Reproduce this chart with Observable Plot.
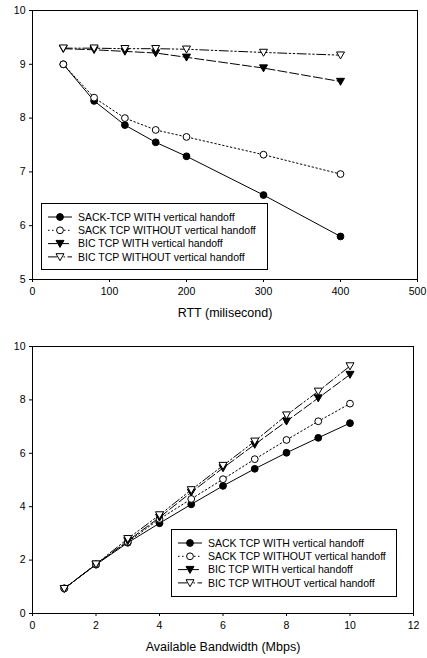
<!DOCTYPE html>
<html><head><meta charset="utf-8">
<script src="https://cdn.jsdelivr.net/npm/d3@7"></script>
<script src="https://cdn.jsdelivr.net/npm/@observablehq/plot@0.6"></script>
<style>
html,body{margin:0;padding:0;background:#fff;}
#chart svg{display:block;}
</style></head><body><div id="chart"></div>
<script>
// ---- data ----
const seriesNames1 = ["SACK-TCP WITH vertical handoff", "SACK TCP WITHOUT vertical handoff", "BIC TCP WITH vertical handoff", "BIC TCP WITHOUT vertical handoff"];
const seriesNames2 = ["SACK TCP WITH vertical handoff", "SACK TCP WITHOUT vertical handoff", "BIC TCP WITH vertical handoff", "BIC TCP WITHOUT vertical handoff"];
const rtt = [40, 80, 120, 160, 200, 300, 400];
const rttSackWith = [9.0, 8.32, 7.87, 7.55, 7.29, 6.57, 5.80];
const rttSackWithout = [9.0, 8.38, 8.00, 7.78, 7.65, 7.32, 6.96];
const rttBicWith = [9.29, 9.27, 9.24, 9.21, 9.13, 8.93, 8.68];
const rttBicWithout = [9.30, 9.30, 9.29, 9.29, 9.28, 9.22, 9.17];
const bandwidth = [1, 2, 3, 4, 5, 6, 7, 8, 9, 10];
const bwSackWith = [0.94, 1.83, 2.65, 3.38, 4.09, 4.78, 5.42, 6.02, 6.58, 7.13];
const bwSackWithout = [0.94, 1.84, 2.68, 3.54, 4.29, 5.03, 5.78, 6.50, 7.20, 7.86];
const bwBicWith = [0.93, 1.84, 2.72, 3.60, 4.54, 5.45, 6.33, 7.20, 8.07, 8.95];
const bwBicWithout = [0.93, 1.85, 2.80, 3.69, 4.63, 5.54, 6.45, 7.43, 8.32, 9.27];
const rttXTicks = [0, 100, 200, 300, 400, 500];
const rttYTicks = [5, 6, 7, 8, 9, 10];
const bwXTicks = [0, 2, 4, 6, 8, 10, 12];
const bwYTicks = [0, 2, 4, 6, 8, 10];
const xLabel1 = "RTT (milisecond)";
const xLabel2 = "Available Bandwidth (Mbps)";

// ---- styling ----
const FONT = "'Liberation Sans', Arial, Helvetica, sans-serif";
const triangleDown = {
  draw(ctx, size) {
    const r = Math.sqrt(size / Math.PI);
    ctx.moveTo(-r, -0.8 * r);
    ctx.lineTo(r, -0.8 * r);
    ctx.lineTo(0, 0.95 * r);
    ctx.closePath();
  }
};
const styles = [
  {dash: null, symbol: "circle", fill: "black", r: 3.4},
  {dash: "1.5,2.5", symbol: "circle", fill: "white", r: 3.4},
  {dash: "9,3", symbol: triangleDown, fill: "black", r: 4},
  {dash: "9,2.5,1.5,2.5,1.5,2.5", symbol: triangleDown, fill: "white", r: 4}
];

function makeChart(cfg) {
  const rows = [];
  cfg.series.forEach((vals, s) => vals.forEach((v, i) => rows.push({x: cfg.xs[i], y: v, s})));
  const marks = [];
  styles.forEach((st, s) => {
    const d = rows.filter(r => r.s === s);
    marks.push(Plot.line(d, {x: "x", y: "y", stroke: "black", strokeWidth: 1, strokeDasharray: st.dash || undefined}));
  });
  styles.forEach((st, s) => {
    const d = rows.filter(r => r.s === s);
    marks.push(Plot.dot(d, {x: "x", y: "y", symbol: st.symbol, r: st.r, fill: st.fill, stroke: "black", strokeWidth: 1}));
  });
  const svg = Plot.plot({
    width: 427,
    height: cfg.height,
    marginTop: cfg.mt, marginBottom: cfg.mb, marginLeft: cfg.ml, marginRight: cfg.mr,
    style: {fontFamily: FONT, fontSize: "10.5px", background: "white", color: "black"},
    x: {domain: cfg.xDomain},
    y: {domain: cfg.yDomain},
    marks: [
      Plot.axisX({ticks: cfg.xTicks, tickSize: 3, tickPadding: 5, tickFormat: d3.format("d"), label: null, fontSize: 10.5}),
      Plot.axisY({ticks: cfg.yTicks, tickSize: 3, tickPadding: 4, tickFormat: d3.format("d"), label: null, fontSize: 10.5}),
      ...marks,
      Plot.frame({stroke: "black", strokeWidth: 1}),
      Plot.text([cfg.xLabel], {text: d => d, frameAnchor: "bottom", dy: 37, fontSize: 12.5, fill: "black"})
    ]
  });
  // legend box
  const lg = d3.select(svg).append("g")
    .attr("transform", `translate(${cfg.ml + cfg.legend.left},${cfg.mt + cfg.legend.top})`)
    .attr("font-family", FONT).attr("font-size", "10.5px").attr("text-anchor", "start");
  lg.append("rect").attr("x", 0.5).attr("y", 0.5).attr("width", cfg.legend.w).attr("height", cfg.legend.h)
    .attr("fill", "white").attr("stroke", "black").attr("stroke-width", 1);
  cfg.names.forEach((name, i) => {
    const st = styles[i];
    const y = 14 + i * 13.3;
    lg.append("line").attr("x1", 7).attr("x2", 31).attr("y1", y).attr("y2", y)
      .attr("stroke", "black").attr("stroke-width", 1)
      .attr("stroke-dasharray", st.dash || null);
    const symType = st.symbol === "circle" ? d3.symbolCircle : st.symbol;
    lg.append("path").attr("d", d3.symbol(symType, st.r * st.r * Math.PI)())
      .attr("transform", `translate(19,${y})`)
      .attr("fill", st.fill).attr("stroke", "black").attr("stroke-width", 1);
    lg.append("text").attr("x", 37).attr("y", y).attr("dy", "0.36em")
      .attr("text-anchor", "start").attr("fill", "black").text(name);
  });
  return svg;
}

const root = document.getElementById("chart");
root.appendChild(makeChart({
  xs: rtt, series: [rttSackWith, rttSackWithout, rttBicWith, rttBicWithout], names: seriesNames1,
  xDomain: [0, 500], yDomain: [5, 10], xTicks: rttXTicks, yTicks: rttYTicks,
  height: 330, mt: 10, mb: 51, ml: 32, mr: 10, xLabel: xLabel1,
  legend: {left: 9, top: 193, w: 226, h: 66}
}));
root.appendChild(makeChart({
  xs: bandwidth, series: [bwSackWith, bwSackWithout, bwBicWith, bwBicWithout], names: seriesNames2,
  xDomain: [0, 12], yDomain: [0, 10], xTicks: bwXTicks, yTicks: bwYTicks,
  height: 328, mt: 16, mb: 45, ml: 32, mr: 14, xLabel: xLabel2,
  legend: {left: 139, top: 183, w: 225, h: 67}
}));
</script></body></html>
